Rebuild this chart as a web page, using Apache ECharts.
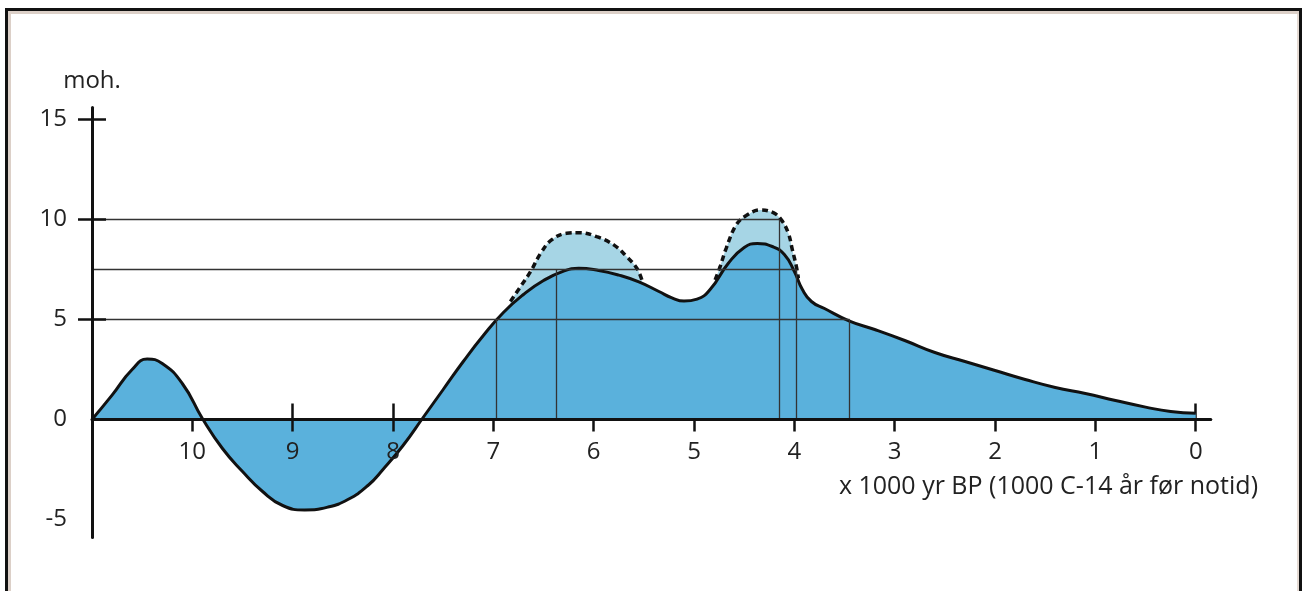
<!DOCTYPE html>
<html>
<head>
<meta charset="utf-8">
<script src="https://cdn.jsdelivr.net/npm/echarts@6/dist/echarts.min.js"></script>
<style>
html, body { margin: 0; padding: 0; background: #fff; overflow: hidden; }
#frame {
    position: absolute; left: 5px; top: 8px; width: 1297px; height: 700px;
    box-sizing: border-box; border: 3px solid #111;
    box-shadow: inset 3px 3px 0 #dcd0c8, inset -2px 0 0 #e4dad3;
}
#chart { position: absolute; left: 0; top: 0; width: 1306px; height: 591px; }
</style>
</head>
<body>
<div id="frame"></div>
<div id="chart"></div>
<script>
// relativ havnivå (moh.) mot tid, x 1000 år BP
var years = [11.0, 10.8, 10.6, 10.45, 10.3, 10.1, 9.9, 9.7, 9.5, 9.3, 9.1, 8.88, 8.65, 8.45, 8.25, 8.1, 7.9, 7.7, 7.5, 7.3, 7.1, 6.9, 6.7, 6.5, 6.3, 6.15, 5.95, 5.75, 5.55, 5.35, 5.22, 5.1, 4.97, 4.84, 4.66, 4.5, 4.37, 4.22, 4.1, 4.0, 3.92, 3.83, 3.7, 3.45, 3.2, 2.9, 2.6, 2.3, 2.0, 1.7, 1.4, 1.1, 0.8, 0.5, 0.25, 0.0]
var levels = [0, 1.22, 2.5, 3.02, 2.8, 1.8, 0.05, -1.45, -2.6, -3.6, -4.3, -4.52, -4.38, -4.0, -3.3, -2.5, -1.3, 0.1, 1.5, 2.9, 4.2, 5.35, 6.25, 6.95, 7.42, 7.56, 7.45, 7.22, 6.88, 6.4, 6.08, 5.92, 6.02, 6.5, 7.8, 8.6, 8.8, 8.65, 8.25, 7.4, 6.5, 5.9, 5.55, 4.92, 4.5, 3.95, 3.35, 2.9, 2.45, 2.0, 1.6, 1.3, 0.95, 0.62, 0.4, 0.31]

// stiplede alternative topper
var bump1Years = [6.83, 6.73, 6.63, 6.53, 6.42, 6.27, 6.14, 5.97, 5.80, 5.67, 5.57, 5.52]
var bump1Levels = [5.9, 6.64, 7.39, 8.3, 8.98, 9.31, 9.34, 9.14, 8.73, 8.14, 7.56, 6.98]
var bump2Years = [4.79, 4.74, 4.68, 4.58, 4.48, 4.34, 4.21, 4.13, 4.06, 4.02, 3.98, 3.96]
var bump2Levels = [6.98, 7.64, 8.56, 9.73, 10.2, 10.48, 10.34, 9.98, 9.31, 8.48, 7.64, 7.06]

// hjelpelinjer
var refLevels = [10, 7.5, 5]
var refEnds = [4.15, 3.98, 3.45]
var dropYears = [6.97, 6.375, 4.15, 3.98, 3.45]
var dropTops = [5, 7.5, 10, 7.5, 5]

var xTicks = [0, 1, 2, 3, 4, 5, 6, 7, 8, 9, 10]
var yLabels = [-5, 0, 5, 10, 15]
var yTicks = [5, 10, 15]

var font = 'Open Sans'
var ink = '#111'
var textColor = '#222'

function pairs(xs, ys) {
    return xs.map(function (x, i) { return [x, ys[i]] })
}

var refLines = []
refLevels.forEach(function (v, i) {
    refLines.push([{ coord: [11, v] }, { coord: [refEnds[i], v] }])
})
dropYears.forEach(function (x, i) {
    refLines.push([{ coord: [x, 0] }, { coord: [x, dropTops[i]] }])
})

var myChart = echarts.init(document.getElementById('chart'))
var options = {
    animation: false,
    grid: [
        { left: 92, top: 107.5, width: 1118.8, height: 430 },
        // øvre halvdel: bunnen er nullnivået, der x-aksen står
        { left: 92, top: 107.5, width: 1118.8, height: 312 }
    ],
    xAxis: [{
        type: 'value', inverse: true, min: -0.15, max: 11, show: false
    }, {
        gridIndex: 1, type: 'value', inverse: true, min: -0.15, max: 11, position: 'bottom', z: 5,
        axisLine: { onZero: false, lineStyle: { color: ink, width: 3 } },
        axisTick: { customValues: xTicks, length: 12, lineStyle: { color: ink, width: 2.5 } },
        axisLabel: { customValues: xTicks, margin: 21, fontSize: 24, color: textColor, fontFamily: font },
        splitLine: { show: false }
    }, {
        gridIndex: 1, type: 'value', inverse: true, min: -0.15, max: 11, position: 'bottom', z: 0,
        axisLine: { show: false, onZero: false },
        axisTick: { inside: true, customValues: xTicks, length: 16, lineStyle: { color: ink, width: 2.5 } },
        axisLabel: { show: false },
        splitLine: { show: false }
    }],
    yAxis: [{
        type: 'value', min: -5.9, max: 15.6, z: 5,
        name: 'moh.', nameLocation: 'end', nameGap: 14,
        nameTextStyle: { fontSize: 24, color: textColor, fontFamily: font },
        axisLine: { onZero: false, lineStyle: { color: ink, width: 3 } },
        axisTick: { customValues: yTicks, length: 14, lineStyle: { color: ink, width: 2.5 } },
        axisLabel: { customValues: yLabels, margin: 25, fontSize: 24, color: textColor, fontFamily: font },
        splitLine: { show: false }
    }, {
        type: 'value', min: -5.9, max: 15.6, position: 'left', z: 5,
        axisLine: { show: false, onZero: false },
        axisTick: { inside: true, customValues: yTicks, length: 14, lineStyle: { color: ink, width: 2.5 } },
        axisLabel: { show: false },
        splitLine: { show: false }
    }, {
        gridIndex: 1, type: 'value', min: 0, max: 15.6, show: false
    }],
    graphic: [{
        type: 'text', right: 1306 - 1258, top: 474,
        style: { text: 'x 1000 yr BP (1000 C-14 år før notid)', fontSize: 25, fill: textColor, fontFamily: font }
    }],
    series: [{
        type: 'line', z: 1, smooth: 0.4, symbol: 'none',
        data: pairs(bump1Years, bump1Levels),
        lineStyle: { color: ink, width: 3.5, type: [6, 4] },
        areaStyle: { color: '#a6d5e5', opacity: 1 }
    }, {
        type: 'line', z: 1, smooth: 0.4, symbol: 'none',
        data: pairs(bump2Years, bump2Levels),
        lineStyle: { color: ink, width: 3.5, type: [6, 4] },
        areaStyle: { color: '#a6d5e5', opacity: 1 }
    }, {
        type: 'line', z: 2, smooth: 0.5, symbol: 'none',
        data: pairs(years, levels),
        lineStyle: { color: ink, width: 3 },
        areaStyle: { color: '#5ab1dc', opacity: 1 },
        markLine: {
            silent: true, symbol: 'none', label: { show: false },
            lineStyle: { color: '#333', width: 1.3, type: 'solid' },
            data: refLines
        }
    }]
}
myChart.setOption(options)
</script>
</body>
</html>
